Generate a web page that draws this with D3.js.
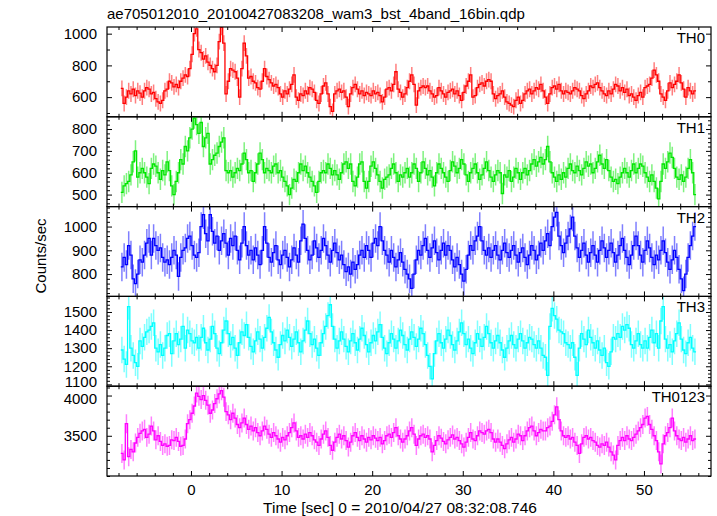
<!DOCTYPE html>
<html><head><meta charset="utf-8">
<script src="https://cdn.jsdelivr.net/npm/d3@7"></script>
<style>body{margin:0;background:#fff}svg{display:block}text{font-family:"Liberation Sans",Arial,Helvetica,sans-serif;fill:#000}</style>
</head><body><svg id="c" width="717" height="516"></svg>
<script>
const title = "ae705012010_20100427083208_wam3_bst_4band_16bin.qdp";
const xLabel = "Time [sec] 0 = 2010/04/27 08:32:08.746";
const yLabel = "Counts/sec";
const bandNames = ["TH0", "TH1", "TH2", "TH3", "TH0123"];
const bandColors = ["#ff0000", "#00e600", "#0000ff", "#00ffff", "#ff00ff"];
const tStart = -7.75, binWidth = 0.25;

const th0 = [655,560,600,640,620,650,610,640,625,600,640,660,650,620,630,590,570,560,580,640,
650,700,690,665,680,660,700,720,740,730,780,870,1000,1030,900,880,840,860,820,800,
780,760,800,950,1040,940,620,700,780,770,760,720,600,780,940,860,720,730,700,690,
660,650,700,780,730,710,690,670,680,660,620,600,640,620,650,680,740,600,580,620,
610,640,620,660,650,630,580,560,620,670,690,620,540,510,620,640,650,630,640,600,
540,620,660,680,650,620,640,610,630,620,610,640,620,630,610,570,600,650,660,640,
680,760,650,630,600,620,660,700,740,680,550,640,660,670,660,670,640,620,600,610,
660,640,620,600,630,640,650,620,640,610,580,630,670,700,740,600,610,660,680,690,
670,700,710,700,620,590,610,620,640,600,570,560,550,540,580,600,560,580,620,640,
650,620,640,660,650,680,640,600,560,620,660,670,650,680,640,620,640,630,620,640,
660,650,640,610,590,620,640,670,660,680,690,660,640,620,610,640,620,650,680,670,
640,660,630,650,610,620,600,580,610,630,600,660,670,680,720,770,740,700,620,600,
580,640,690,660,680,700,740,690,650,600,660,640,620,640];

const th1 = [510,540,550,560,590,650,700,580,600,620,600,580,550,620,640,630,600,570,610,590,
650,610,540,500,560,600,660,640,720,700,760,800,850,820,780,830,720,760,780,640,
660,680,690,720,740,760,610,600,610,580,600,620,610,640,690,660,600,610,560,600,
640,690,660,600,620,610,600,630,640,600,610,580,560,540,500,530,570,560,600,640,
610,630,600,580,560,540,510,560,600,610,600,640,620,590,610,590,570,600,640,650,
620,640,560,540,580,640,650,560,530,560,630,650,620,590,560,530,570,580,590,620,
640,600,560,590,580,600,620,580,600,640,620,560,600,650,620,590,610,580,540,600,
640,620,600,580,560,610,650,630,600,620,660,640,590,560,600,620,640,600,570,590,
620,650,610,580,560,590,610,600,505,590,580,610,560,580,620,600,570,600,620,590,
610,640,660,630,650,670,640,660,720,650,600,580,560,590,570,600,580,620,640,610,
600,630,610,590,620,650,630,640,600,620,650,680,640,620,660,610,580,560,570,550,
580,600,620,600,580,610,640,600,620,640,630,600,580,560,590,560,530,480,560,640,
620,650,690,670,620,580,570,590,560,580,620,660,600,500];

const th2 = [830,870,840,920,880,780,760,800,860,850,880,930,950,880,950,920,900,910,870,850,
860,840,870,900,880,790,870,900,910,950,960,920,880,870,890,1000,1050,970,940,1050,
980,930,960,900,940,970,930,880,950,920,960,900,860,930,1000,920,880,900,860,910,
880,840,900,1000,930,870,850,890,920,860,840,880,900,870,830,860,910,880,850,940,
1010,950,900,860,880,940,910,870,900,950,920,880,850,900,930,890,860,880,840,810,
830,800,850,820,840,880,900,870,920,900,870,930,950,920,1000,940,900,880,850,900,
870,830,860,890,850,820,800,780,740,800,860,900,880,920,950,900,870,910,940,890,
860,900,930,880,920,900,860,830,870,840,800,770,820,880,920,900,940,960,1000,940,
900,880,910,870,900,920,880,860,900,930,890,870,900,920,880,850,890,910,870,840,
880,920,900,860,880,930,900,940,970,920,1000,1040,1060,960,920,890,930,960,990,1040,
960,910,870,900,930,880,850,890,920,880,850,900,940,910,870,900,930,890,850,880,
920,950,900,870,840,880,920,960,920,880,850,900,940,910,870,840,880,860,900,940,
890,850,820,860,900,870,820,780,730,800,870,920,960,1000];

const th3 = [1290,1240,1210,1530,1300,1260,1220,1200,1340,1310,1360,1390,1400,1420,1440,1300,1280,1320,1260,1300,
1370,1380,1270,1340,1380,1320,1350,1420,1300,1400,1380,1340,1330,1360,1300,1360,1410,1330,1290,1350,
1420,1380,1300,1270,1330,1400,1450,1380,1320,1360,1300,1260,1330,1390,1370,1430,1360,1310,1280,1340,
1390,1350,1300,1360,1410,1470,1390,1330,1290,1250,1320,1370,1340,1400,1360,1310,1350,1390,1330,1280,
1340,1400,1450,1380,1320,1350,1300,1260,1330,1380,1420,1480,1540,1420,1350,1300,1340,1390,1350,1310,
1280,1340,1380,1330,1290,1350,1410,1370,1320,1280,1330,1370,1340,1390,1430,1360,1300,1270,1330,1380,
1350,1300,1340,1400,1370,1320,1290,1350,1390,1360,1310,1350,1410,1380,1320,1260,1200,1130,1270,1340,
1380,1330,1300,1350,1400,1370,1320,1290,1340,1390,1440,1380,1320,1350,1300,1270,1330,1380,1350,1310,
1360,1420,1380,1330,1300,1340,1370,1330,1290,1250,1300,1340,1370,1320,1300,1350,1380,1340,1300,1330,
1360,1350,1320,1300,1340,1300,1260,1250,1150,1420,1520,1480,1460,1400,1390,1380,1330,1320,1300,1330,
1250,1150,1300,1380,1350,1320,1400,1360,1330,1300,1340,1290,1260,1300,1220,1200,1280,1360,1350,1380,
1360,1420,1400,1430,1410,1320,1300,1340,1380,1320,1300,1340,1300,1360,1400,1330,1380,1300,1450,1530,
1350,1300,1320,1280,1340,1380,1440,1350,1290,1270,1330,1360,1300,1280];

const th0123 = [3280,3200,3650,3240,3330,3300,3410,3480,3530,3560,3580,3480,3520,3620,3560,3450,3500,3430,3380,3400,
3370,3380,3450,3440,3480,3430,3370,3380,3460,3650,3700,3780,3870,4030,3990,3950,4000,3940,3880,3780,
3820,3900,3960,4020,4060,3980,3800,3760,3700,3780,3720,3640,3600,3660,3720,3640,3580,3620,3560,3600,
3540,3500,3560,3620,3580,3520,3480,3540,3500,3460,3420,3480,3450,3500,3540,3600,3660,3560,3480,3500,
3460,3520,3480,3540,3500,3450,3420,3380,3460,3520,3560,3480,3380,3320,3420,3480,3520,3460,3500,3440,
3360,3420,3500,3540,3480,3440,3500,3460,3420,3480,3450,3500,3470,3440,3480,3400,3440,3500,3520,3480,
3540,3600,3500,3460,3420,3460,3500,3560,3600,3520,3380,3460,3500,3520,3480,3500,3460,3300,3380,3440,
3500,3470,3430,3400,3450,3480,3510,3460,3480,3440,3400,3360,3420,3480,3540,3460,3440,3500,3560,3540,
3520,3560,3580,3540,3460,3420,3460,3420,3380,3340,3400,3450,3480,3420,3460,3520,3500,3440,3500,3560,
3600,3620,3560,3500,3540,3580,3560,3560,3600,3620,3680,3760,3860,3700,3560,3500,3480,3500,3460,3480,
3420,3380,3280,3400,3480,3500,3460,3480,3440,3420,3380,3360,3400,3380,3420,3360,3300,3260,3200,3380,
3440,3480,3440,3500,3460,3440,3480,3520,3560,3600,3640,3720,3740,3640,3580,3500,3440,3300,3150,3400,
3500,3540,3600,3720,3560,3500,3460,3440,3480,3420,3460,3500,3440,3460];

const bandValues = [th0, th1, th2, th3, th0123];
const bandErrors = [50, 49, 60, 73, 118];
const yDomains = [[476, 1042], [445, 856], [706, 1084], [1090, 1586], [3000, 4116]];
const yMajorTicks = [[600, 800, 1000], [500, 600, 700, 800], [800, 900, 1000], [1100, 1200, 1300, 1400, 1500], [3500, 4000]];
const yMinorStep = [100, 20, 20, 20, 100];
const xDomain = [-9.27, 57.4];
const xMajorTicks = [0, 10, 20, 30, 40, 50];
const xMinorStep = 2;

const svg = d3.select("#c");
const L = 107, R = 711, T = 27, PH = 89.8;
const x = d3.scaleLinear().domain(xDomain).range([L, R]);
const xMinor = d3.range(Math.ceil(xDomain[0] / xMinorStep) * xMinorStep, xDomain[1], xMinorStep).filter(v => !xMajorTicks.includes(v));

svg.append("text").attr("x", 107).attr("y", 19).attr("font-size", 15).text(title);

bandValues.forEach((vals, k) => {
  const top = T + k * PH, bot = top + PH;
  const y = d3.scaleLinear().domain(yDomains[k]).range([bot, top]);
  const g = svg.append("g");
  const cid = "clip" + k;
  svg.append("clipPath").attr("id", cid).append("rect").attr("x", L).attr("y", top).attr("width", R - L).attr("height", PH);
  const dg = g.append("g").attr("clip-path", `url(#${cid})`);
  const col = bandColors[k], err = bandErrors[k];
  const pts = vals.map((v, i) => ({t: tStart + i * binWidth, v}));
  dg.selectAll("line.err").data(pts).enter().append("line")
    .attr("x1", d => x(d.t + binWidth / 2)).attr("x2", d => x(d.t + binWidth / 2))
    .attr("y1", d => y(d.v - err)).attr("y2", d => y(d.v + err))
    .attr("stroke", col).attr("stroke-width", 1.5).attr("stroke-opacity", 0.5);
  const stepPts = pts.concat([{t: tStart + vals.length * binWidth, v: vals[vals.length - 1]}]);
  dg.append("path").datum(stepPts)
    .attr("d", d3.line().x(d => x(d.t)).y(d => y(d.v)).curve(d3.curveStepAfter))
    .attr("fill", "none").attr("stroke", col).attr("stroke-width", 1.3);

  g.append("rect").attr("x", L).attr("y", top).attr("width", R - L).attr("height", PH)
    .attr("fill", "none").attr("stroke", "#000").attr("stroke-width", 1.2);

  const yMin = d3.range(Math.ceil(yDomains[k][0] / yMinorStep[k]) * yMinorStep[k], yDomains[k][1], yMinorStep[k])
    .filter(v => !yMajorTicks[k].includes(v));
  const ax = g.append("g").attr("transform", `translate(${L},0)`)
    .call(d3.axisLeft(y).tickValues(yMajorTicks[k]).tickSize(-5).tickPadding(10).tickFormat(d3.format("d")));
  ax.select(".domain").remove();
  ax.selectAll("text").attr("font-size", 15).attr("font-family", "Liberation Sans, Arial, sans-serif");
  // keep the touching labels at the 4th/5th panel join slightly apart
  if (k === 3) ax.selectAll("text").filter(d => d === 1100).attr("dy", "0.16em");
  if (k === 4) ax.selectAll("text").filter(d => d === 4000).attr("dy", "0.5em");
  const axm = g.append("g").attr("transform", `translate(${L},0)`).call(d3.axisLeft(y).tickValues(yMin).tickSize(-3).tickFormat(""));
  axm.select(".domain").remove();
  const axr = g.append("g").attr("transform", `translate(${R},0)`).call(d3.axisRight(y).tickValues(yMajorTicks[k]).tickSize(-5).tickFormat(""));
  axr.select(".domain").remove();
  const axrm = g.append("g").attr("transform", `translate(${R},0)`).call(d3.axisRight(y).tickValues(yMin).tickSize(-3).tickFormat(""));
  axrm.select(".domain").remove();
  [[top, d3.axisTop], [bot, d3.axisBottom]].forEach(([yy, fn]) => {
    const a1 = g.append("g").attr("transform", `translate(0,${yy})`).call(fn(x).tickValues(xMajorTicks).tickSize(-5).tickFormat(""));
    a1.select(".domain").remove();
    const a2 = g.append("g").attr("transform", `translate(0,${yy})`).call(fn(x).tickValues(xMinor).tickSize(-3).tickFormat(""));
    a2.select(".domain").remove();
  });
  g.selectAll(".tick line").attr("stroke", "#000").attr("stroke-width", 1);

  g.append("text").attr("x", 705).attr("y", top + 16).attr("text-anchor", "end").attr("font-size", 15).text(bandNames[k]);

  if (k === bandValues.length - 1) {
    const xa = g.append("g").attr("transform", `translate(0,${bot})`)
      .call(d3.axisBottom(x).tickValues(xMajorTicks).tickSize(0).tickPadding(8).tickFormat(d3.format("d")));
    xa.select(".domain").remove();
    xa.selectAll("text").attr("font-size", 15).attr("font-family", "Liberation Sans, Arial, sans-serif");
  }
});

svg.append("text").attr("x", 400).attr("y", 513).attr("text-anchor", "middle").attr("font-size", 15.5).text(xLabel);
svg.append("text").attr("transform", "translate(46,256) rotate(-90)").attr("text-anchor", "middle").attr("font-size", 15).text(yLabel);
</script></body></html>
